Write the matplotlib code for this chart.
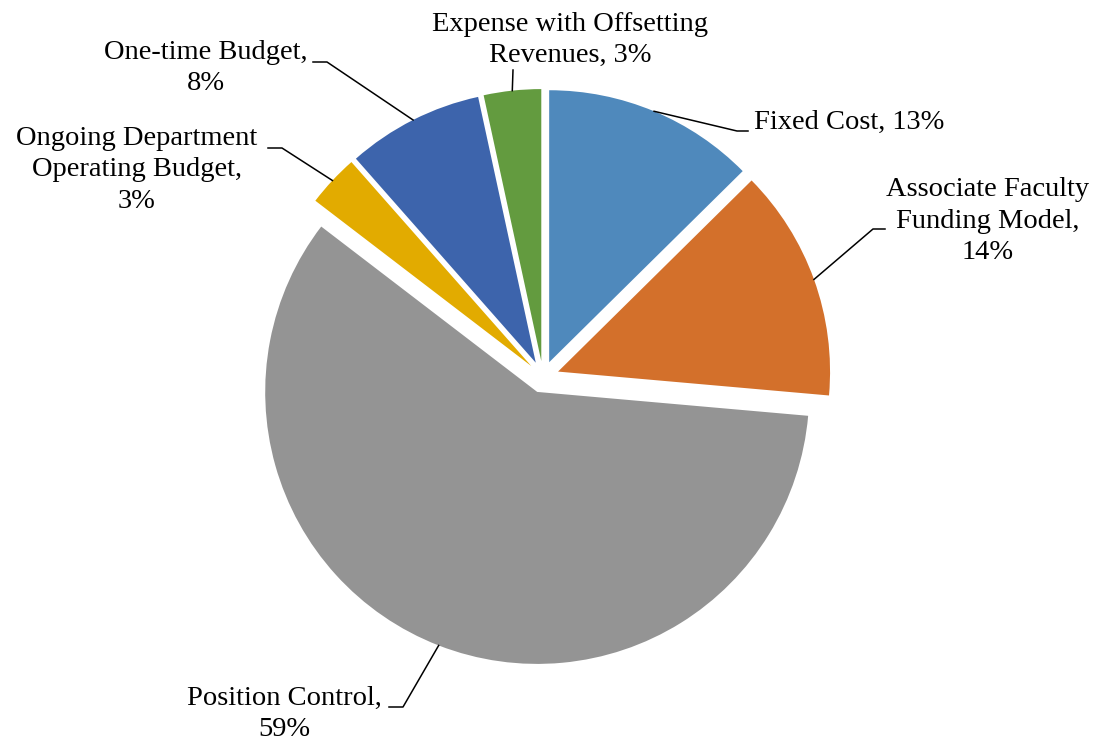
import matplotlib
matplotlib.use("Agg")
import numpy as np
import matplotlib.pyplot as plt

# budget share by category (clockwise from 12 o'clock)
categories = ["Fixed Cost", "Associate Faculty\nFunding Model", "Position Control",
              "Ongoing Department\nOperating Budget", "One-time Budget",
              "Expense with Offsetting\nRevenues"]
shares = [12.6, 13.8, 59.0, 3.1, 8.1, 3.4]
separators = [", ", ",\n", ",\n", ",\n", ",\n", ", "]
colors = ["#4F89BC", "#D3702B", "#949494", "#E2AB00", "#3D64AC", "#639B3F"]

W, H = 1101, 744
fig = plt.figure(figsize=(W / 100, H / 100), dpi=100)
ax = fig.add_axes([0, 0, 1, 1])

cx, cy, r = 543, H - 377, 272
wedges, _ = ax.pie(shares, colors=colors, startangle=90, counterclock=False,
                   center=(cx, cy), radius=r, explode=[16] * len(shares),
                   wedgeprops=dict(linewidth=0))
ax.set_xlim(0, W)
ax.set_ylim(0, H)
ax.set_aspect("equal")
ax.axis("off")

# label layout in pixel coords (y measured from top): text centre, elbow, line end
label_pos = [(849, 122), (988, 221), (284, 714), (137, 170), (206, 68), (570, 40)]
elbows = [(737, 131), (873, 229), (403, 707), (282, 148), (327, 62), (513, 70)]
ends = [(748, 131), (885, 229), (389, 707), (268, 148), (313, 62), (513, 70)]

plt.rcParams["font.family"] = ["Liberation Serif", "DejaVu Serif"]

for w, name, v, sep, lp, el, en in zip(wedges, categories, shares, separators,
                                       label_pos, elbows, ends):
    tm = np.deg2rad((w.theta1 + w.theta2) / 2)
    x0 = w.center[0] + w.r * np.cos(tm)
    y0 = w.center[1] + w.r * np.sin(tm)
    ax.plot([x0, el[0], en[0]], [y0, H - el[1], H - en[1]], color="black", lw=1.1)
    ax.text(lp[0], H - lp[1], f"{name}{sep}{round(v)}%", ha="center", va="center",
            multialignment="center", fontsize=20.5, family=["Liberation Serif"],
            linespacing=1.35)

fig.savefig("out.png", dpi=100)
